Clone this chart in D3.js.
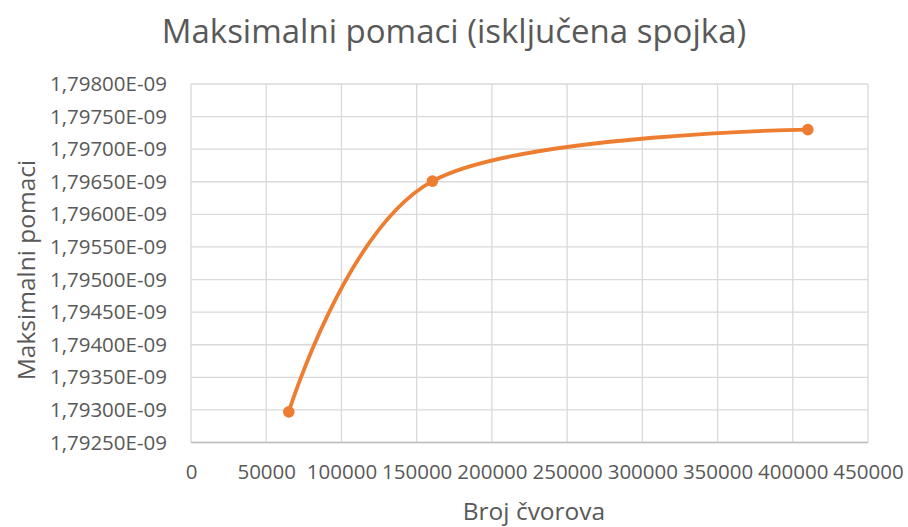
<!DOCTYPE html>
<html>
<head>
<meta charset="utf-8">
<script src="https://cdn.jsdelivr.net/npm/d3@7"></script>
<style>
  html, body { margin: 0; padding: 0; background: #ffffff; }
  svg { display: block; }
  text { font-family: "Open Sans", "Noto Sans", sans-serif; fill: #595959; }
</style>
</head>
<body>
<svg id="chart" width="908" height="527"></svg>
<script>
// Broj čvorova (mesh node count) and the maximum displacement for each mesh
const nodeCounts = [65000, 160500, 410000];
const maxDisplacements = [1.79297e-9, 1.79651e-9, 1.79730e-9];
const xTicks = [0, 50000, 100000, 150000, 200000, 250000, 300000, 350000, 400000, 450000];
const yTicks = [1.7925e-9, 1.7930e-9, 1.7935e-9, 1.7940e-9, 1.7945e-9, 1.7950e-9,
                1.7955e-9, 1.7960e-9, 1.7965e-9, 1.7970e-9, 1.7975e-9, 1.7980e-9];

const chartTitle = "Maksimalni pomaci (isključena spojka)";
const xTitle = "Broj čvorova";
const yTitle = "Maksimalni pomaci";

const svg = d3.select("#chart");
const plot = { left: 191, right: 868, top: 84, bottom: 442.5 };

const x = d3.scaleLinear().domain([0, 450000]).range([plot.left, plot.right]);
const y = d3.scaleLinear().domain([1.7925e-9, 1.7980e-9]).range([plot.bottom, plot.top]);

const fmtY = d => (d * 1e9).toFixed(5).replace(".", ",") + "E-09";

// Gridlines
svg.append("g")
  .selectAll("line.h")
  .data(yTicks)
  .join("line")
  .attr("x1", plot.left).attr("x2", plot.right)
  .attr("y1", d => y(d)).attr("y2", d => y(d))
  .attr("stroke", "#d9d9d9").attr("stroke-width", 1.3);

svg.append("g")
  .selectAll("line.v")
  .data(xTicks)
  .join("line")
  .attr("x1", d => x(d)).attr("x2", d => x(d))
  .attr("y1", plot.top).attr("y2", plot.bottom)
  .attr("stroke", "#d9d9d9").attr("stroke-width", 1.3);

// Horizontal axis line
svg.append("line")
  .attr("x1", plot.left).attr("x2", plot.right)
  .attr("y1", plot.bottom).attr("y2", plot.bottom)
  .attr("stroke", "#bfbfbf").attr("stroke-width", 1.3);

// Axes (labels only, Excel style)
const yAxis = svg.append("g")
  .attr("transform", `translate(${plot.left},0)`)
  .call(d3.axisLeft(y).tickValues(yTicks).tickFormat(fmtY).tickSize(0).tickPadding(24));
yAxis.select(".domain").remove();
yAxis.selectAll("text")
  .style("font-family", '"Open Sans", "Noto Sans", sans-serif')
  .style("font-size", "20.5px").attr("fill", "#595959");

const xAxis = svg.append("g")
  .attr("transform", `translate(0,${plot.bottom})`)
  .call(d3.axisBottom(x).tickValues(xTicks).tickFormat(d3.format("d")).tickSize(0).tickPadding(22));
xAxis.select(".domain").remove();
xAxis.selectAll("text")
  .style("font-family", '"Open Sans", "Noto Sans", sans-serif')
  .style("font-size", "20.5px").attr("fill", "#595959");

// Smoothed series line
const pts = nodeCounts.map((n, i) => [n, maxDisplacements[i]]);
const line = d3.line()
  .x(d => x(d[0]))
  .y(d => y(d[1]))
  .curve(d3.curveCardinal.tension(0));

svg.append("path")
  .datum(pts)
  .attr("d", line)
  .attr("fill", "none")
  .attr("stroke", "#ed7d31")
  .attr("stroke-width", 3.8)
  .attr("stroke-linecap", "round");

svg.append("g")
  .selectAll("circle")
  .data(pts)
  .join("circle")
  .attr("cx", d => x(d[0]))
  .attr("cy", d => y(d[1]))
  .attr("r", 5.8)
  .attr("fill", "#ed7d31");

// Titles
svg.append("text")
  .attr("x", 454).attr("y", 42.5)
  .attr("text-anchor", "middle")
  .style("font-size", "33px")
  .text(chartTitle);

svg.append("text")
  .attr("x", 534).attr("y", 520)
  .attr("text-anchor", "middle")
  .style("font-size", "24.5px")
  .text(xTitle);

svg.append("text")
  .attr("transform", "translate(35,270) rotate(-90)")
  .attr("text-anchor", "middle")
  .style("font-size", "24.5px")
  .text(yTitle);
</script>
</body>
</html>
